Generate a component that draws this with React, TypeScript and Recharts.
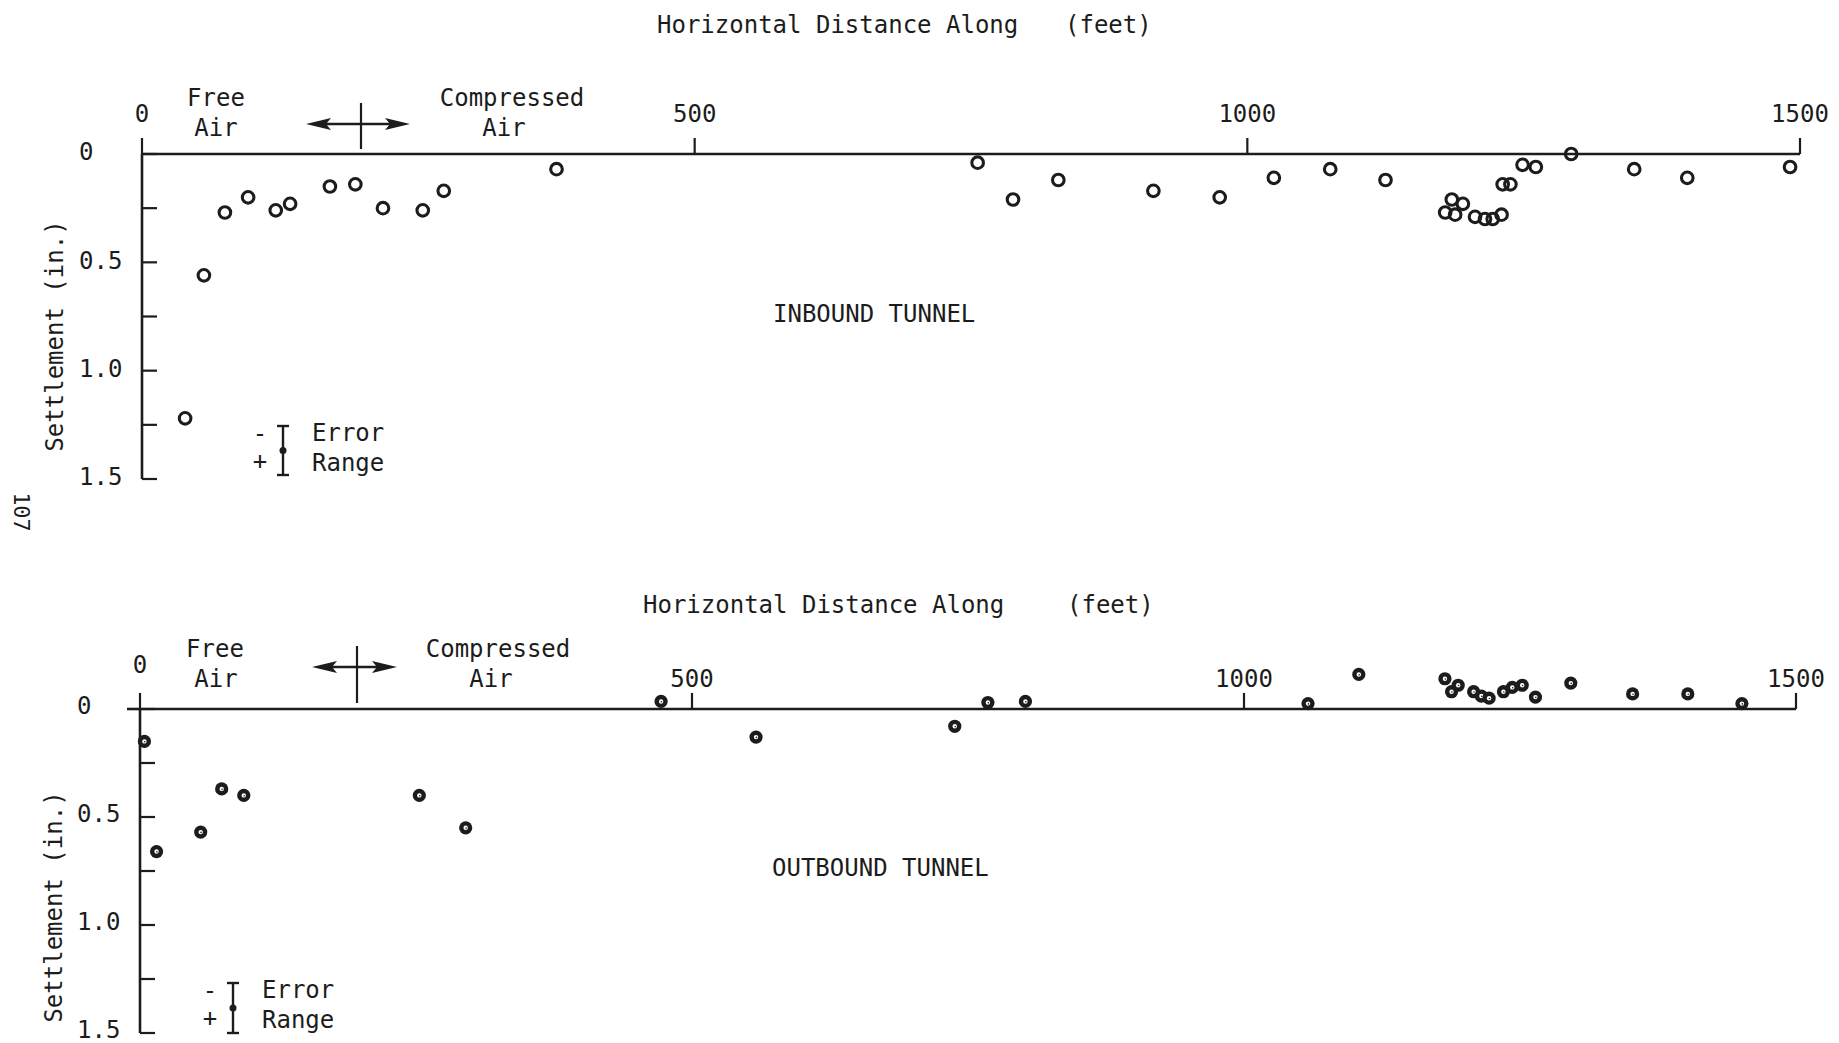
import { ScatterChart, Scatter, XAxis, YAxis } from "recharts";

// Inbound tunnel: distance (ft) and settlement (in.)
const inboundDist = [39, 56, 75, 96, 121, 134, 170, 193, 218, 254, 273, 375, 756, 788, 829, 915, 975, 1024, 1075, 1125, 1179, 1185, 1188, 1195, 1206, 1215, 1222, 1230, 1231, 1238, 1249, 1261, 1293, 1350, 1398, 1491];
const inboundSettle = [1.22, 0.56, 0.27, 0.2, 0.26, 0.23, 0.15, 0.14, 0.25, 0.26, 0.17, 0.07, 0.04, 0.21, 0.12, 0.17, 0.2, 0.11, 0.07, 0.12, 0.27, 0.21, 0.28, 0.23, 0.29, 0.3, 0.3, 0.28, 0.14, 0.14, 0.05, 0.06, 0.0, 0.07, 0.11, 0.06];

// Outbound tunnel (negative = above the zero line)
const outboundDist = [4, 15, 55, 74, 94, 253, 295, 472, 558, 738, 768, 802, 1058, 1104, 1182, 1188, 1194, 1208, 1215, 1222, 1235, 1243, 1252, 1264, 1296, 1352, 1402, 1451];
const outboundSettle = [0.15, 0.66, 0.57, 0.37, 0.4, 0.4, 0.55, -0.035, 0.13, 0.08, -0.03, -0.035, -0.025, -0.16, -0.14, -0.08, -0.11, -0.08, -0.06, -0.05, -0.08, -0.1, -0.11, -0.055, -0.12, -0.07, -0.07, -0.025];

const distTicks = [0, 500, 1000, 1500];
const settleTicks = [0, 0.25, 0.5, 0.75, 1.0, 1.25, 1.5];

const INK = "#1c1c1c";
const FONT = "'DejaVu Sans Mono', 'Liberation Mono', monospace";

const inboundData = inboundDist.map((d, i) => ({ x: d, y: inboundSettle[i] }));
const outboundData = outboundDist.map((d, i) => ({ x: d, y: outboundSettle[i] }));

const SettleTick = (props: any) => {
  const { x, y, payload, lift } = props;
  const v = payload.value;
  if (v % 0.5 !== 0) return <g />;
  return (
    <text x={x - 78} y={y - (lift || 0)} dy="0.35em" textAnchor="start" fontSize={24} fontFamily={FONT} fill={INK}>
      {v === 0 ? "0" : v.toFixed(1)}
    </text>
  );
};

// x labels sit above the axis; the "0" of the lower panel is typed a bit higher
const DistTick = (props: any) => {
  const { x, y, payload, zeroLift } = props;
  const up = payload.value === 0 ? zeroLift || 0 : 0;
  return (
    <text x={x} y={y - up} textAnchor="middle" fontSize={24} fontFamily={FONT} fill={INK}>
      {payload.value}
    </text>
  );
};

const OpenCircle = (props: any) => (
  <circle cx={props.cx} cy={props.cy} r={5.8} fill="none" stroke={INK} strokeWidth={3.1} />
);

const DotCircle = (props: any) => (
  <g>
    <circle cx={props.cx} cy={props.cy} r={6.6} fill={INK} />
    <circle cx={props.cx} cy={props.cy} r={2.2} fill="#fff" />
    <circle cx={props.cx + 0.4} cy={props.cy + 0.3} r={0.8} fill={INK} />
  </g>
);

function Panel({ data, shape, xHeight, yWidth, margin, height, tickMargin, zeroLift, labelLift }: any) {
  return (
    <ScatterChart width={1839} height={height} margin={margin}>
      <XAxis
        type="number"
        dataKey="x"
        orientation="top"
        domain={[0, 1500]}
        ticks={distTicks}
        height={xHeight}
        tickSize={16}
        tickMargin={tickMargin}
        axisLine={{ stroke: INK, strokeWidth: 2.6 }}
        tickLine={{ stroke: INK, strokeWidth: 2.2 }}
        tick={<DistTick zeroLift={zeroLift} />}
        allowDataOverflow
      />
      <YAxis
        type="number"
        dataKey="y"
        domain={[0, 1.5]}
        reversed
        ticks={settleTicks}
        width={yWidth}
        tickSize={-15}
        tickMargin={0}
        axisLine={{ stroke: INK, strokeWidth: 2.6 }}
        tickLine={{ stroke: INK, strokeWidth: 2.2 }}
        tick={<SettleTick lift={labelLift} />}
        allowDataOverflow
      />
      <Scatter data={data} shape={shape} isAnimationActive={false} />
    </ScatterChart>
  );
}

const txt = { fontFamily: FONT, fontSize: 24, fill: INK } as const;

function ErrorLegend({ x, top, bottom }: { x: number; top: number; bottom: number }) {
  const mid = (top + bottom) / 2;
  return (
    <g>
      <text {...txt} x={x - 23} y={mid - 17} textAnchor="middle" dominantBaseline="central">-</text>
      <text {...txt} x={x - 23} y={mid + 10} textAnchor="middle" dominantBaseline="central">+</text>
      <line x1={x} x2={x} y1={top} y2={bottom} stroke={INK} strokeWidth={2.4} />
      <line x1={x - 6} x2={x + 6} y1={top} y2={top} stroke={INK} strokeWidth={2.4} />
      <line x1={x - 6} x2={x + 6} y1={bottom} y2={bottom} stroke={INK} strokeWidth={2.4} />
      <circle cx={x} cy={mid} r={3.5} fill={INK} />
      <text {...txt} x={x + 29} y={mid - 18} dominantBaseline="central">Error</text>
      <text {...txt} x={x + 29} y={mid + 12} dominantBaseline="central">Range</text>
    </g>
  );
}

function AirArrow({ x1, x2, y, vx, vy1, vy2 }: any) {
  const head = 25;
  return (
    <g>
      <line x1={x1 + 10} x2={x2 - 10} y1={y} y2={y} stroke={INK} strokeWidth={2.6} />
      <polygon points={`${x1},${y} ${x1 + head},${y - 6} ${x1 + head - 5},${y} ${x1 + head},${y + 6}`} fill={INK} />
      <polygon points={`${x2},${y} ${x2 - head},${y - 6} ${x2 - head + 5},${y} ${x2 - head},${y + 6}`} fill={INK} />
      <line x1={vx} x2={vx} y1={vy1} y2={vy2} stroke={INK} strokeWidth={2.2} />
    </g>
  );
}

export default function App() {
  return (
    <div style={{ position: "absolute", left: 0, top: 0, width: 1839, height: 1043, background: "#fff", overflow: "hidden" }}>
      <style>{`.recharts-scatter{clip-path:none !important}`}</style>

      <div style={{ position: "absolute", left: 0, top: 0 }}>
        <Panel
          data={inboundData}
          shape={<OpenCircle />}
          height={500}
          margin={{ top: 0, right: 39, bottom: 21, left: 0 }}
          xHeight={154}
          yWidth={142}
          tickMargin={16}
          zeroLift={0}
          labelLift={2}
        />
      </div>

      <div style={{ position: "absolute", left: 0, top: 540 }}>
        <Panel
          data={outboundData}
          shape={<DotCircle />}
          height={503}
          margin={{ top: 0, right: 43, bottom: 10, left: 0 }}
          xHeight={169}
          yWidth={140}
          tickMargin={6}
          zeroLift={14}
          labelLift={3}
        />
      </div>

      <svg width={1839} height={1043} style={{ position: "absolute", left: 0, top: 0, pointerEvents: "none" }}>
        {/* top panel */}
        <text {...txt} x={657} y={33}>Horizontal Distance Along</text>
        <text {...txt} x={1065} y={33}>(feet)</text>
        <text {...txt} x={216} y={98} textAnchor="middle" dominantBaseline="central">Free</text>
        <text {...txt} x={216} y={128} textAnchor="middle" dominantBaseline="central">Air</text>
        <text {...txt} x={512} y={98} textAnchor="middle" dominantBaseline="central">Compressed</text>
        <text {...txt} x={504} y={128} textAnchor="middle" dominantBaseline="central">Air</text>
        <AirArrow x1={306} x2={410} y={124} vx={361} vy1={103} vy2={149} />
        <text {...txt} x={773} y={322}>INBOUND TUNNEL</text>
        <text {...txt} x={0} y={0} textAnchor="middle" dominantBaseline="central" transform="translate(55,336) rotate(-90)">Settlement (in.)</text>
        <ErrorLegend x={283} top={426} bottom={475} />
        <text {...txt} fontSize={22} x={0} y={0} textAnchor="middle" dominantBaseline="central" transform="translate(21,512) rotate(90)">107</text>

        {/* bottom panel */}
        <text {...txt} x={643} y={613}>Horizontal Distance Along</text>
        <text {...txt} x={1067} y={613}>(feet)</text>
        <text {...txt} x={215} y={649} textAnchor="middle" dominantBaseline="central">Free</text>
        <text {...txt} x={216} y={679} textAnchor="middle" dominantBaseline="central">Air</text>
        <text {...txt} x={498} y={649} textAnchor="middle" dominantBaseline="central">Compressed</text>
        <text {...txt} x={491} y={679} textAnchor="middle" dominantBaseline="central">Air</text>
        <AirArrow x1={312} x2={397} y={667} vx={357} vy1={646} vy2={703} />
        <line x1={127} x2={141} y1={709} y2={709} stroke={INK} strokeWidth={2.6} />
        <text {...txt} x={772} y={876}>OUTBOUND TUNNEL</text>
        <text {...txt} x={0} y={0} textAnchor="middle" dominantBaseline="central" transform="translate(54,907) rotate(-90)">Settlement (in.)</text>
        <ErrorLegend x={233} top={983} bottom={1033} />
      </svg>
    </div>
  );
}
